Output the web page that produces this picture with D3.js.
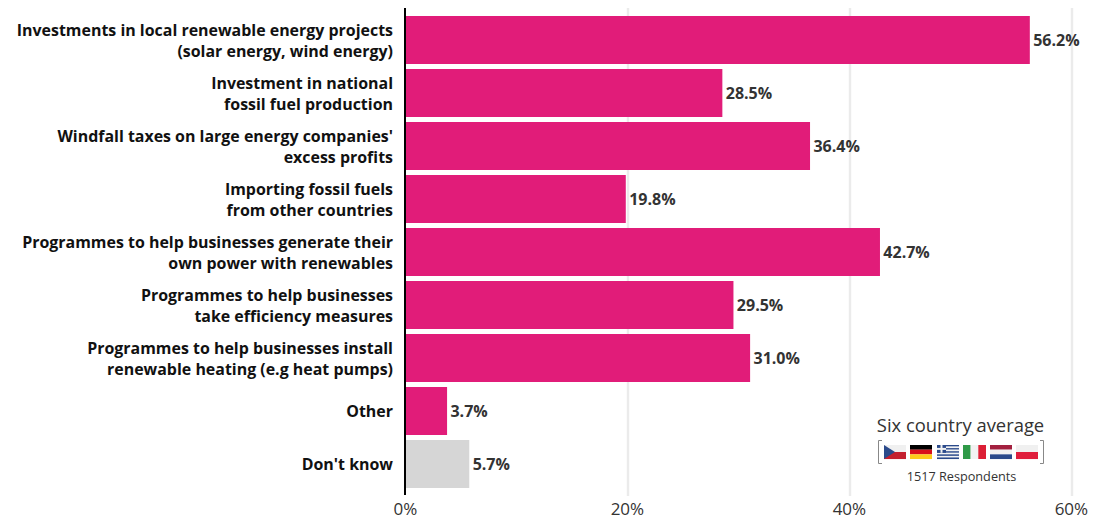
<!DOCTYPE html>
<html>
<head>
<meta charset="utf-8">
<script src="https://cdn.jsdelivr.net/npm/d3@7/dist/d3.min.js"></script>
<style>
html,body{margin:0;padding:0;background:#fff;}
svg{display:block;}
text{font-family:"Open Sans",sans-serif;}
</style>
</head>
<body>
<svg id="chart" width="1106" height="515"></svg>
<script>
// Survey answers, two-line category labels and shares in percent
const labelLines = [
  ["Investments in local renewable energy projects", "(solar energy, wind energy)"],
  ["Investment in national", "fossil fuel production"],
  ["Windfall taxes on large energy companies'", "excess profits"],
  ["Importing fossil fuels", "from other countries"],
  ["Programmes to help businesses generate their", "own power with renewables"],
  ["Programmes to help businesses", "take efficiency measures"],
  ["Programmes to help businesses install", "renewable heating (e.g heat pumps)"],
  ["Other"],
  ["Don't know"]
];
const values = [56.2, 28.5, 36.4, 19.8, 42.7, 29.5, 31.0, 3.7, 5.7];
const barColors = ["#e11c79","#e11c79","#e11c79","#e11c79","#e11c79","#e11c79","#e11c79","#e11c79","#d6d6d6"];
const xTicks = [0, 20, 40, 60];
const legendTitle = "Six country average";
const legendNote = "1517 Respondents";

const svg = d3.select("#chart");
const x = d3.scaleLinear().domain([0, 60]).range([406, 1072]);
const y = d3.scaleBand().domain(d3.range(values.length)).range([13.5, 490.5]).paddingInner(5 / 53).paddingOuter(2.5 / 53);

// Vertical gridlines sit behind the bars
svg.append("g").selectAll("line").data(xTicks.slice(1)).join("line")
  .attr("x1", d => x(d)).attr("x2", d => x(d))
  .attr("y1", 8).attr("y2", 496)
  .attr("stroke", "#ebebeb").attr("stroke-width", 2.4);

svg.append("g").selectAll("rect").data(values).join("rect")
  .attr("x", x(0))
  .attr("y", (d, i) => y(i))
  .attr("width", d => x(d) - x(0))
  .attr("height", y.bandwidth())
  .attr("fill", (d, i) => barColors[i]);

// Baseline
svg.append("line")
  .attr("x1", 405).attr("x2", 405).attr("y1", 8).attr("y2", 495)
  .attr("stroke", "#000").attr("stroke-width", 2);

// Value labels
svg.append("g").selectAll("text").data(values).join("text")
  .attr("x", d => x(d) + 3.4)
  .attr("y", (d, i) => y(i) + y.bandwidth() / 2 + 5.5)
  .attr("font-size", 16).attr("font-weight", 700).attr("fill", "#333")
  .text(d => d.toFixed(1) + "%");

// Category labels, right aligned against the baseline
const cat = svg.append("g").selectAll("text").data(labelLines).join("text")
  .attr("text-anchor", "end")
  .attr("font-size", 15.95).attr("font-weight", 700).attr("fill", "#111");
cat.each(function (lines, i) {
  const cy = y(i) + y.bandwidth() / 2;
  d3.select(this).selectAll("tspan").data(lines).join("tspan")
    .attr("x", 393)
    .attr("y", (l, j) => cy + 6 + (j - (lines.length - 1) / 2) * 21)
    .text(l => l);
});

// Tick labels
svg.append("g").selectAll("text").data(xTicks).join("text")
  .attr("x", d => x(d) - 0.6)
  .attr("y", 514.5)
  .attr("text-anchor", "middle")
  .attr("font-size", 17).attr("fill", "#333")
  .text(d => d + "%");

// Legend block with the six national flags
const legend = svg.append("g");
legend.append("text").attr("x", 960.5).attr("y", 432).attr("text-anchor", "middle")
  .attr("font-size", 18.4).attr("fill", "#333").text(legendTitle);
legend.append("text").attr("x", 961.5).attr("y", 481).attr("text-anchor", "middle")
  .attr("font-size", 12.7).attr("fill", "#333").text(legendNote);
legend.append("path")
  .attr("d", "M882,440.5H878.5V463.5H882M1040,440.5H1043.5V463.5H1040")
  .attr("fill", "none").attr("stroke", "#888").attr("stroke-width", 1);

function flag(left) { return legend.append("g").attr("transform", `translate(${left},445)`); }
function stripes(g, colors) {
  const h = 14 / colors.length;
  colors.forEach((c, i) => g.append("rect").attr("y", i * h).attr("width", 22).attr("height", h + 0.05).attr("fill", c));
}

// Czechia
let f = flag(884);
stripes(f, ["#f0f0f0", "#c4202f"]);
f.append("path").attr("d", "M0,0L11,7L0,14Z").attr("fill", "#2b4a8b");
// Germany
f = flag(910);
stripes(f, ["#000", "#d80f1a", "#fdcb1a"]);
// Greece
f = flag(937);
stripes(f, ["#2b4a8b", "#f2f2f2", "#2b4a8b", "#f2f2f2", "#2b4a8b", "#f2f2f2", "#2b4a8b", "#f2f2f2", "#2b4a8b"]);
f.append("rect").attr("width", 9).attr("height", 7.8).attr("fill", "#2b4a8b");
f.append("rect").attr("x", 3.5).attr("width", 2).attr("height", 7.8).attr("fill", "#f2f2f2");
f.append("rect").attr("y", 2.9).attr("width", 9).attr("height", 2).attr("fill", "#f2f2f2");
// Italy
f = flag(963);
[["#2f9a48", 0], ["#f2f2f2", 7.6], ["#dc1f35", 15.3]].forEach(([c, l]) =>
  f.append("rect").attr("x", l).attr("width", 7.7).attr("height", 14).attr("fill", c));
// Netherlands
f = flag(990);
stripes(f, ["#a3203f", "#f2f2f2", "#2b4a8b"]);
// Poland
f = flag(1016);
stripes(f, ["#f0f0f0", "#e01e3c"]);
</script>
</body>
</html>
